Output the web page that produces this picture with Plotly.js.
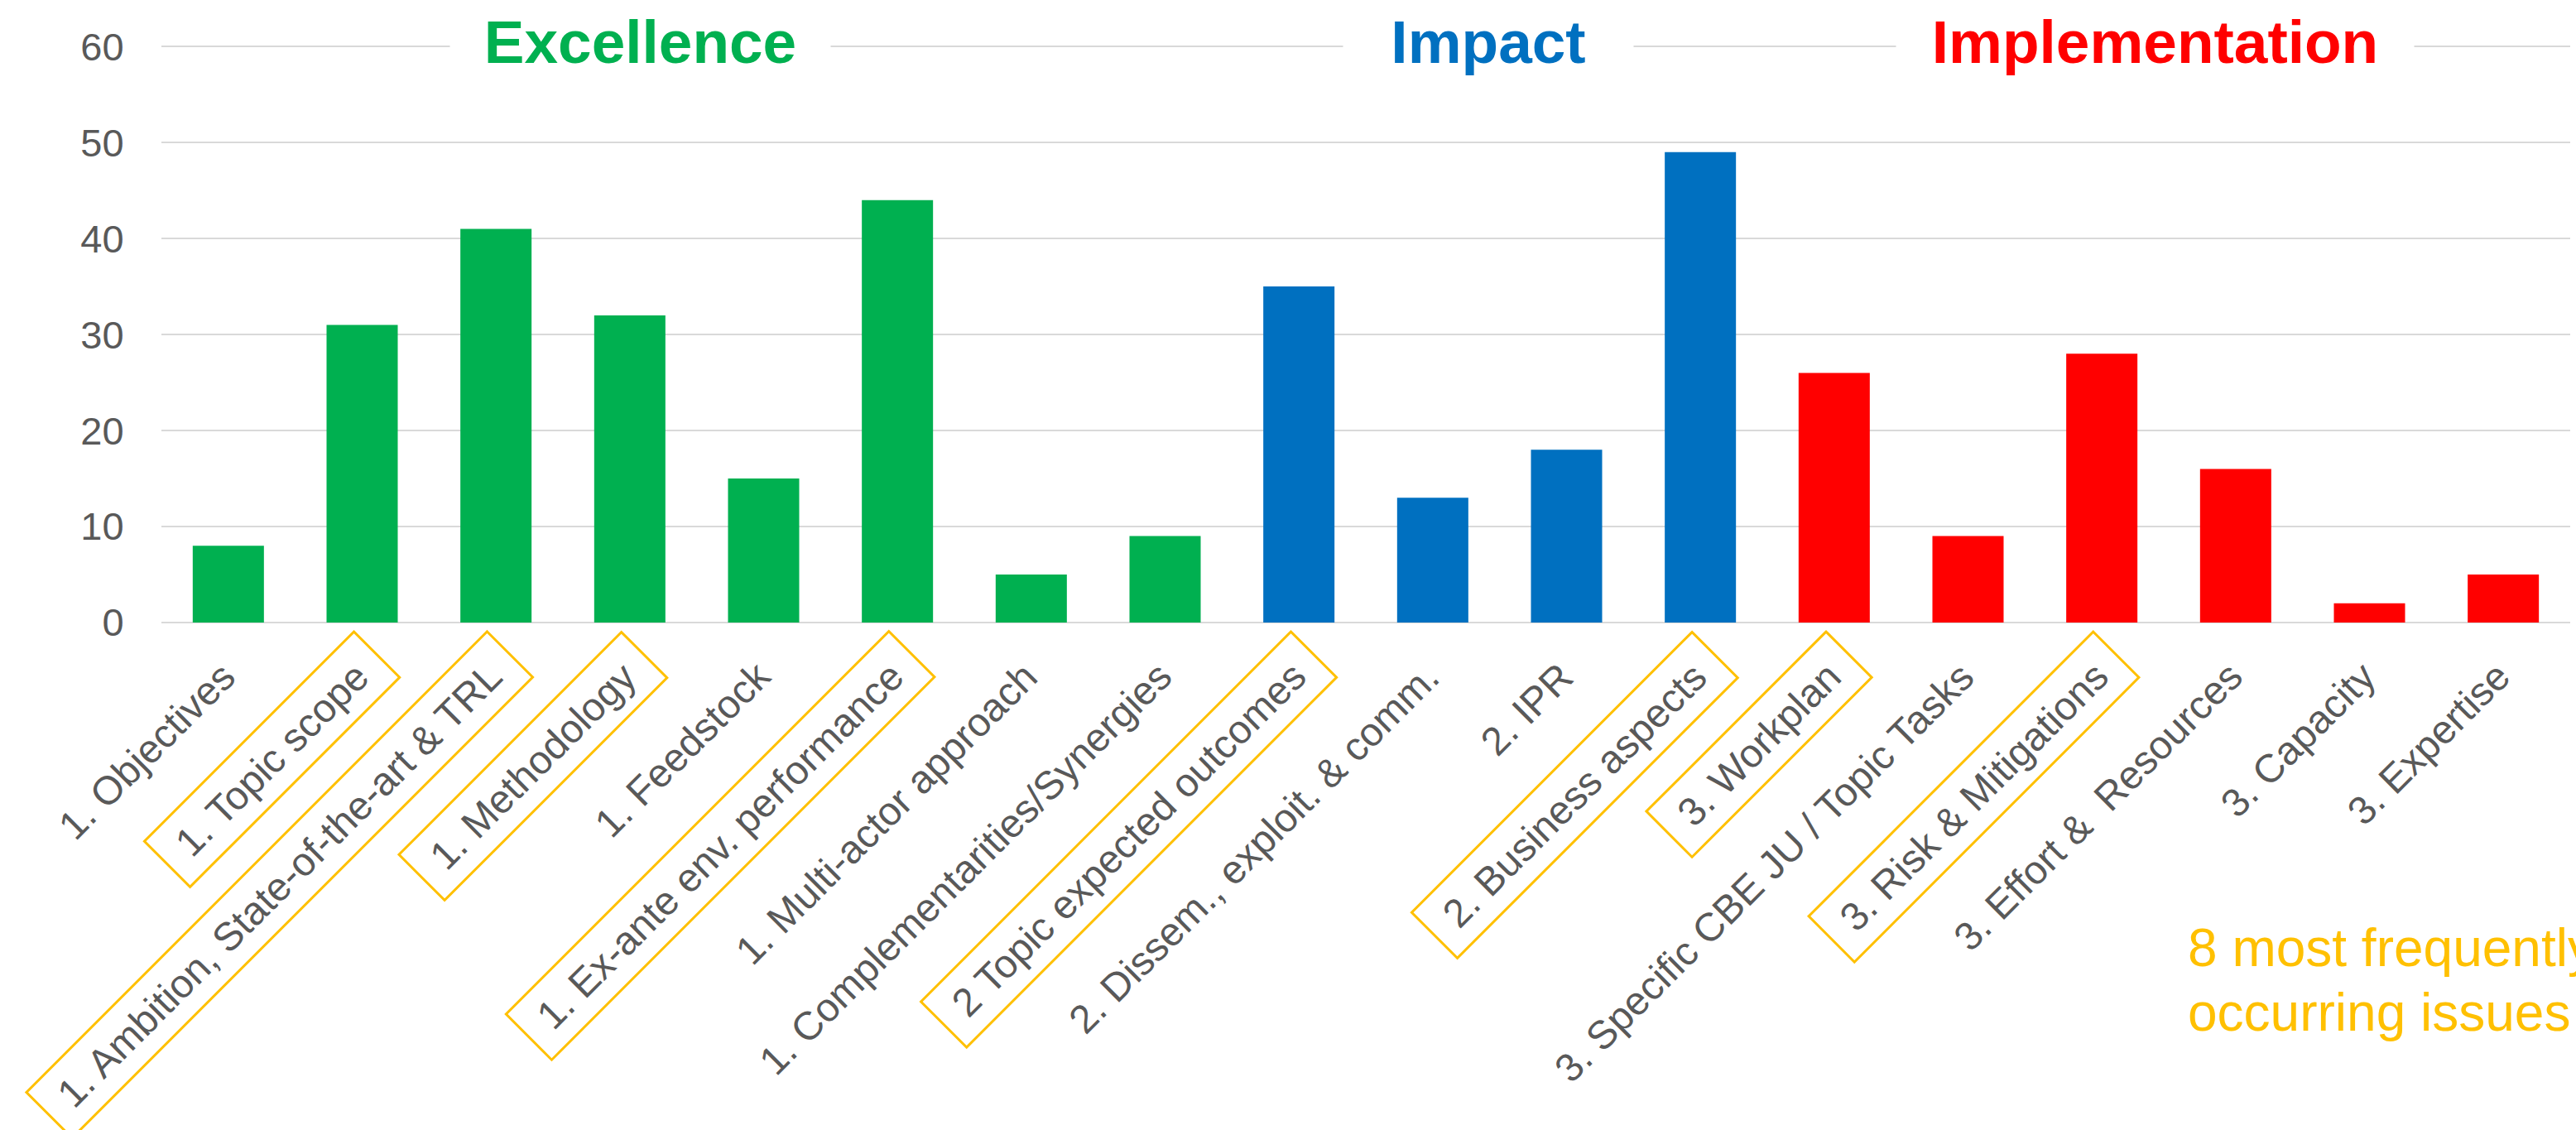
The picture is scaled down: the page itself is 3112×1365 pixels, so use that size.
<!DOCTYPE html>
<html>
<head>
<meta charset="utf-8">
<script src="https://cdn.plot.ly/plotly-3.0.1.min.js"></script>
<style>
  html, body { margin: 0; padding: 0; background: #ffffff; overflow: hidden; }
  #chart { width: 3112px; height: 1365px; }
</style>
</head>
<body>
<div id="chart"></div>
<script>
// ---- data ----
const categories = [
  "1. Objectives",
  "1. Topic scope",
  "1. Ambition, State-of-the-art & TRL",
  "1. Methodology",
  "1. Feedstock",
  "1. Ex-ante env. performance",
  "1. Multi-actor approach",
  "1. Complementarities/Synergies",
  "2 Topic expected outcomes",
  "2. Dissem., exploit. & comm.",
  "2. IPR",
  "2. Business aspects",
  "3. Workplan",
  "3. Specific CBE JU / Topic Tasks",
  "3. Risk & Mitigations",
  "3. Effort &\u00a0 Resources",
  "3. Capacity",
  "3. Expertise"
];
const values = [8, 31, 41, 32, 15, 44, 5, 9, 35, 13, 18, 49, 26, 9, 28, 16, 2, 5];
const groups = [
  "Excellence", "Excellence", "Excellence", "Excellence", "Excellence", "Excellence", "Excellence", "Excellence",
  "Impact", "Impact", "Impact", "Impact",
  "Implementation", "Implementation", "Implementation", "Implementation", "Implementation", "Implementation"
];
const highlighted = [false, true, true, true, false, true, false, false, true, false, false, true, true, false, true, false, false, false];
const groupTitles = ["Excellence", "Impact", "Implementation"];
const groupColors = { "Excellence": "#00B050", "Impact": "#0070C0", "Implementation": "#FF0000" };
const noteLines = ["8 most frequently", "occurring issues"];
const yTicks = [0, 10, 20, 30, 40, 50, 60];

// ---- style ----
const FONT = "'Liberation Sans', Arial, sans-serif";
const GRAY = "#595959";
const GRID = "#D9D9D9";
const HILITE = "#FFC000";

const trace = {
  type: "bar",
  x: categories,
  y: values,
  marker: { color: groups.map(g => groupColors[g]) },
  hoverinfo: "x+y"
};

const annotations = [];

// category labels (rotated), highlighted ones get an orange frame
categories.forEach((c, i) => {
  annotations.push({
    xref: "x", yref: "y",
    x: c, y: 0,
    xanchor: "right", yanchor: "top",
    xshift: 47, yshift: -9,
    text: "\u00a0" + c + "\u00a0",
    textangle: -45,
    showarrow: false,
    font: { family: FONT, size: 48, color: GRAY },
    bordercolor: highlighted[i] ? HILITE : "rgba(0,0,0,0)",
    borderwidth: 3,
    borderpad: 11
  });
});

// group titles on the top gridline
const titleX = [0.1988, 0.5509, 0.8277];
const titleW = [459, 350, 625];
groupTitles.forEach((g, i) => {
  annotations.push({
    xref: "paper", yref: "paper",
    x: titleX[i], y: 1.0065,
    xanchor: "center", yanchor: "middle",
    text: "<b>" + g + "</b>",
    showarrow: false,
    width: titleW[i],
    height: 84,
    align: "center",
    bgcolor: "#ffffff",
    borderpad: 0,
    font: { family: FONT, size: 73, color: groupColors[g] }
  });
});

// note in the bottom right corner
const noteY = [-0.5644, -0.6764];
noteLines.forEach((t, i) => {
  annotations.push({
    xref: "paper", yref: "paper",
    x: 0.8409, y: noteY[i],
    xanchor: "left", yanchor: "middle",
    text: t,
    showarrow: false,
    borderpad: 0,
    align: "left",
    font: { family: FONT, size: 64, color: HILITE }
  });
});

const layout = {
  width: 3112,
  height: 1365,
  margin: { l: 195, r: 7, t: 55, b: 613, pad: 0 },
  paper_bgcolor: "#ffffff",
  plot_bgcolor: "#ffffff",
  showlegend: false,
  bargap: 0.468,
  font: { family: FONT, color: GRAY },
  xaxis: {
    type: "category",
    autorange: false,
    range: [-0.5, categories.length - 0.5],
    showticklabels: false,
    showgrid: false,
    showline: false,
    zeroline: false,
    ticks: "",
    fixedrange: true
  },
  yaxis: {
    autorange: false,
    range: [0, 60.1],
    tickvals: yTicks,
    ticktext: yTicks.map(String),
    tickfont: { family: FONT, size: 47, color: GRAY },
    showgrid: true,
    gridcolor: GRID,
    gridwidth: 2,
    zeroline: true,
    zerolinecolor: GRID,
    zerolinewidth: 2,
    showline: false,
    ticks: "outside",
    ticklen: 35,
    tickcolor: "rgba(0,0,0,0)",
    fixedrange: true
  },
  annotations: annotations
};

Plotly.newPlot("chart", [trace], layout, { displayModeBar: false, staticPlot: true });
</script>
</body>
</html>
